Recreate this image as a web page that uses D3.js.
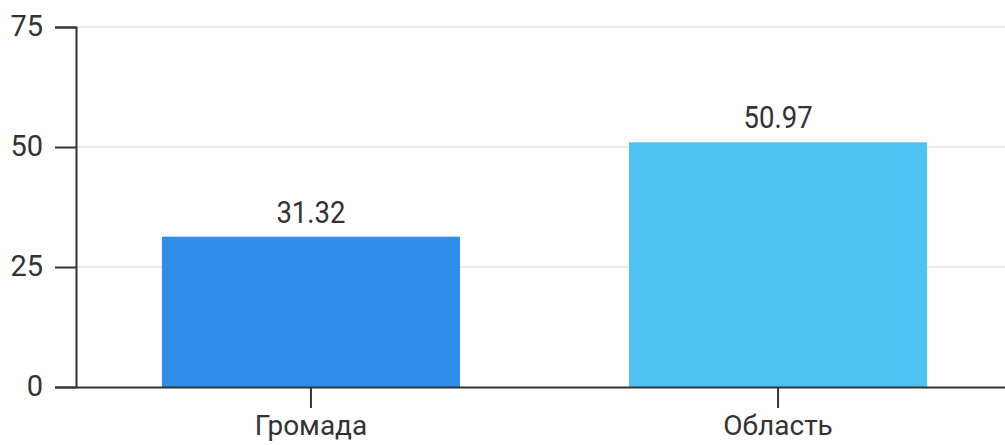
<!DOCTYPE html>
<html>
<head>
<meta charset="utf-8">
<script src="https://cdn.jsdelivr.net/npm/d3@7"></script>
<style>
  html, body { margin: 0; padding: 0; background: #fff; overflow: hidden; }
  svg { display: block; font-family: Roboto, "Noto Sans", sans-serif; }
</style>
</head>
<body>
<svg id="chart" width="1005" height="445"></svg>
<script>
// Data
const categories = ["Громада", "Область"];
const values = [31.32, 50.97];
const barColors = ["#2f8fe8", "#4fc2f2"];
const yTicks = [0, 25, 50, 75];

const svg = d3.select("#chart");
const margin = { left: 76, top: 27, bottom: 58 };
const plotH = 445 - margin.top - margin.bottom;
const plotRight = 1013;

const x = d3.scaleBand()
  .domain(categories)
  .range([margin.left, plotRight])
  .paddingInner(0.362)
  .paddingOuter(0.184);

const y = d3.scaleLinear()
  .domain([0, 75])
  .range([margin.top + plotH, margin.top]);

// Horizontal gridlines
svg.append("g")
  .selectAll("line")
  .data(yTicks.filter(d => d > 0))
  .join("line")
  .attr("x1", margin.left)
  .attr("x2", 1005)
  .attr("y1", d => y(d))
  .attr("y2", d => y(d))
  .attr("stroke", "#ebebeb")
  .attr("stroke-width", 2);

// Bars
svg.append("g")
  .selectAll("rect")
  .data(values)
  .join("rect")
  .attr("x", (d, i) => x(categories[i]))
  .attr("width", x.bandwidth())
  .attr("y", d => y(d))
  .attr("height", d => y(0) - y(d))
  .attr("fill", (d, i) => barColors[i]);

// Value labels
svg.append("g")
  .selectAll("text")
  .data(values)
  .join("text")
  .attr("transform", (d, i) =>
    `translate(${x(categories[i]) + x.bandwidth() / 2},${y(d) - 14}) scale(0.86,1)`)
  .attr("text-anchor", "middle")
  .attr("font-size", 32)
  .attr("fill", "#333")
  .text(d => d.toFixed(2));

// Y axis
const yAxis = svg.append("g")
  .attr("transform", `translate(${margin.left},0)`)
  .call(d3.axisLeft(y).tickValues(yTicks).tickSize(21).tickSizeOuter(21).tickPadding(12));
yAxis.selectAll("path, line").attr("stroke", "#333").attr("stroke-width", 2);
yAxis.selectAll("text")
  .attr("font-size", 29)
  .attr("font-family", "Roboto, sans-serif")
  .attr("fill", "#333")
  .attr("dy", "0.3em");

// X axis
const xAxis = svg.append("g")
  .attr("transform", `translate(0,${y(0)})`)
  .call(d3.axisBottom(x).tickSize(21).tickSizeOuter(0).tickPadding(7));
xAxis.select(".domain").attr("stroke", "#333").attr("stroke-width", 2);
xAxis.selectAll("line").attr("stroke", "#333").attr("stroke-width", 2);
xAxis.selectAll("text")
  .attr("font-size", 28)
  .attr("font-family", "Roboto, sans-serif")
  .attr("fill", "#333");
</script>
</body>
</html>
